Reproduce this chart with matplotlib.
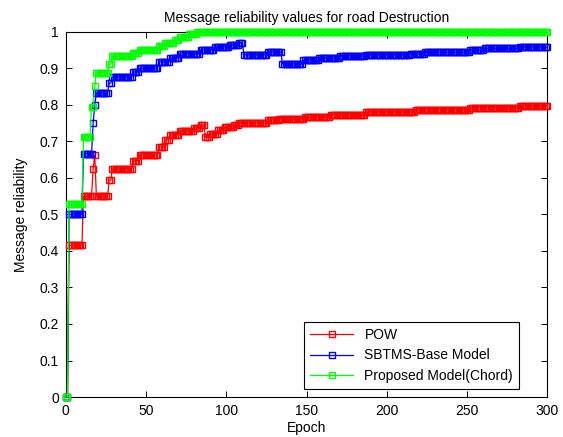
import numpy as np
import matplotlib.pyplot as plt

plt.rcParams['font.family'] = ['Liberation Sans', 'DejaVu Sans']

epochs = np.arange(0, 301)

# step points: (epoch where the value starts, value)
pow_start = [0, 2, 11, 17, 18, 19, 27, 29, 42, 46, 58, 62, 65, 71, 80, 84, 87, 90,
             95, 99, 105, 108, 126, 133, 149, 165, 187, 218, 252, 283]
pow_vals = [0, 0.415, 0.55, 0.625, 0.663, 0.55, 0.594, 0.625, 0.647, 0.663, 0.685,
            0.704, 0.718, 0.729, 0.737, 0.745, 0.712, 0.72, 0.73, 0.74, 0.745, 0.75,
            0.759, 0.762, 0.767, 0.773, 0.781, 0.786, 0.792, 0.797]

sbtms_start = [0, 2, 11, 17, 18, 19, 27, 29, 42, 46, 58, 65, 71, 84, 93, 102, 108,
               111, 126, 135, 148, 158, 171, 187, 215, 224, 252, 261, 283]
sbtms_vals = [0, 0.5, 0.666, 0.75, 0.80, 0.833, 0.86, 0.877, 0.89, 0.90, 0.918,
              0.929, 0.94, 0.951, 0.959, 0.964, 0.97, 0.937, 0.945, 0.912, 0.923,
              0.928, 0.934, 0.937, 0.94, 0.944, 0.95, 0.955, 0.958]

chord_start = [0, 2, 11, 16, 18, 19, 27, 29, 42, 46, 58, 62, 68, 71, 77, 82]
chord_vals = [0, 0.53, 0.712, 0.795, 0.852, 0.888, 0.912, 0.934, 0.942, 0.951,
              0.962, 0.97, 0.978, 0.986, 0.995, 1.0]


def hold(starts, vals):
    idx = np.searchsorted(starts, epochs, side='right') - 1
    return np.array(vals)[idx]


fig = plt.figure(figsize=(5.63, 4.37), dpi=100)
ax = fig.add_axes([0.117, 0.0915, 0.855, 0.8355])

series = [
    (pow_start, pow_vals, '#ff0000', 'POW'),
    (sbtms_start, sbtms_vals, '#0000ff', 'SBTMS-Base Model'),
    (chord_start, chord_vals, '#00ff00', 'Proposed Model(Chord)'),
]
for st, vl, col, lab in series:
    ax.plot(epochs, hold(st, vl), color=col, lw=0.9, marker='s', ms=4.4,
            mfc='none', mec=col, mew=1.0, label=lab, clip_on=False, zorder=3)

ax.set_xlim(0, 300)
ax.set_ylim(0, 1)
ax.set_xticks(np.arange(0, 301, 50))
ax.set_yticks(np.arange(0, 1.01, 0.1))
ax.set_yticklabels(['0', '0.1', '0.2', '0.3', '0.4', '0.5', '0.6', '0.7', '0.8', '0.9', '1'])
ax.tick_params(direction='in', top=True, right=True, labelsize=10, length=4, width=0.7,
               pad=5)
for s in ax.spines.values():
    s.set_linewidth(0.8)

ax.set_title('Message reliability values for road Destruction', fontsize=10, pad=7)
ax.set_xlabel('Epoch', fontsize=10, labelpad=2)
ax.set_ylabel('Message reliability', fontsize=10, labelpad=8)

leg = ax.legend(loc='lower right', bbox_to_anchor=(0.942, 0.022), borderaxespad=0,
                fontsize=10, fancybox=False, edgecolor='black', framealpha=1,
                handlelength=3.1, labelspacing=0.45, borderpad=0.45)
leg.get_frame().set_linewidth(0.8)

fig.savefig('out.png', dpi=100)
